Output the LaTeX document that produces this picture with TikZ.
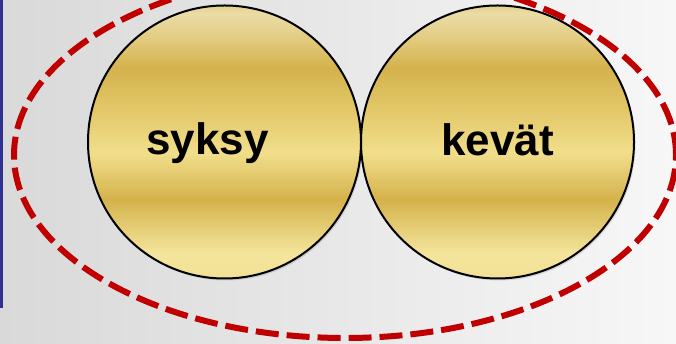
\documentclass[tikz,border=0pt]{standalone}
\usepackage{fontspec}
\setmainfont{Liberation Sans}
\usetikzlibrary{positioning,shadows}
\definecolor{bgleft}{HTML}{D9D9D9}
\definecolor{bgright}{HTML}{F7F7F7}
\definecolor{barblue}{HTML}{2E3192}
\definecolor{dashred}{HTML}{C00000}
\definecolor{goldA}{HTML}{F1E196}
\definecolor{goldB}{HTML}{F4E59C}
\definecolor{goldC}{HTML}{D4B24C}
\definecolor{goldD}{HTML}{F1DE8C}
\definecolor{goldE}{HTML}{E4CA6C}
\definecolor{goldF}{HTML}{E5D08A}
\definecolor{goldG}{HTML}{EADCA6}
% the circle is mapped onto the 25bp--75bp part of the shading
\pgfdeclareverticalshading{gold}{100bp}{color(0bp)=(goldA); color(25bp)=(goldA);
  color(29.5bp)=(goldB); color(39.5bp)=(goldC); color(48bp)=(goldD);
  color(55bp)=(goldE); color(63.5bp)=(goldC); color(70bp)=(goldF);
  color(73.5bp)=(goldG); color(75bp)=(goldF); color(100bp)=(goldF)}
\tikzset{
  coin/.style={circle, draw=black, line width=2pt, minimum size=273pt, inner sep=0pt,
    outer sep=0pt, shading=gold, drop shadow={opacity=0.25, shadow xshift=1.5pt, shadow yshift=-2pt}},
  season/.style={font=\bfseries\fontsize{44}{50}\selectfont, anchor=base},
  ring/.style={draw=dashred, line width=6pt, dash pattern=on 23pt off 8pt}
}
\begin{document}
\begin{tikzpicture}[x=1pt, y=1pt]
  \useasboundingbox (0,0) rectangle (676,344);
  \shade[left color=bgleft, right color=bgright] (0,0) rectangle (676,344);
  \fill[barblue] (0,36) rectangle (3,344);
  % the two seasons
  \node[coin] (autumn) at (224.5,202) {};
  \node[coin, right=0pt of autumn] (spring) {};
  \node[season] (syksy) at ([xshift=-17pt, yshift=-13pt]autumn.center) {syksy};
  \node[season] (kevat) at ([yshift=-14pt]spring.center) {kevät};
  \draw[ring] (345,189) ellipse (331 and 183);
\end{tikzpicture}
\end{document}
